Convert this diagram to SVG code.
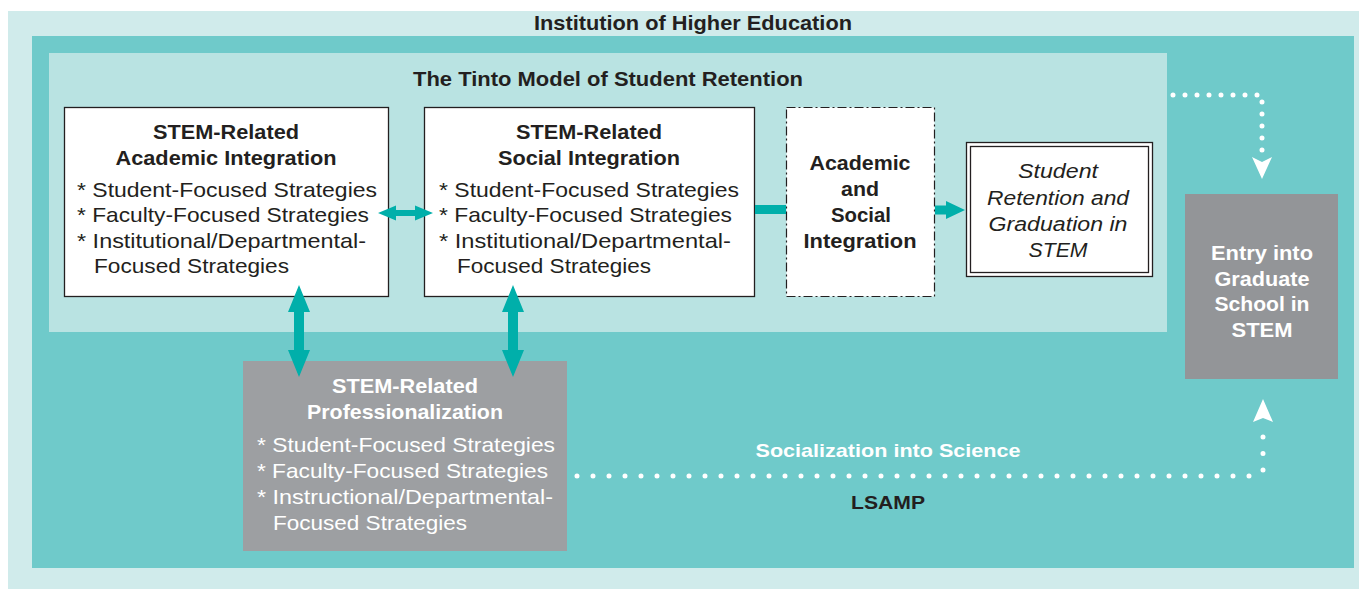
<svg xmlns="http://www.w3.org/2000/svg" width="1367" height="589" viewBox="0 0 1367 589">
<style>
.t{font-family:"Liberation Sans",Arial,sans-serif;fill:#231f20}
.b{font-weight:bold;font-size:20.5px;text-anchor:middle}
.r{font-size:21px}
.i{font-style:italic;font-size:20.5px;text-anchor:middle}
.w{fill:#ffffff}
.box{fill:#ffffff;stroke:#231f20;stroke-width:1.3}
.arr{fill:#00afaa}
.dot{fill:none;stroke:#ffffff;stroke-width:5;stroke-linecap:round}
</style>
<rect x="8" y="11" width="1351" height="578" fill="#d0ebeb"/>
<rect x="32" y="36" width="1322" height="532" fill="#6fcaca"/>
<rect x="49" y="53" width="1118" height="279" fill="#b9e3e2"/>
<text class="t b" x="693" y="30" textLength="318" lengthAdjust="spacingAndGlyphs">Institution of Higher Education</text>
<text class="t b" x="608" y="86" textLength="390" lengthAdjust="spacingAndGlyphs">The Tinto Model of Student Retention</text>

<g id="academic">
  <rect class="box" x="64.5" y="107.5" width="324" height="189"/>
  <text class="t b" x="226" y="139" textLength="146" lengthAdjust="spacingAndGlyphs">STEM-Related</text>
  <text class="t b" x="226" y="165" textLength="221" lengthAdjust="spacingAndGlyphs">Academic Integration</text>
  <text class="t r" x="77" y="197" textLength="300" lengthAdjust="spacingAndGlyphs">* Student-Focused Strategies</text>
  <text class="t r" x="77" y="222" textLength="292" lengthAdjust="spacingAndGlyphs">* Faculty-Focused Strategies</text>
  <text class="t r" x="77" y="248" textLength="289" lengthAdjust="spacingAndGlyphs">* Institutional/Departmental-</text>
  <text class="t r" x="94" y="273" textLength="195" lengthAdjust="spacingAndGlyphs">Focused Strategies</text>
</g>

<g id="social">
  <rect class="box" x="424.5" y="107.5" width="330" height="189"/>
  <text class="t b" x="589" y="139" textLength="146" lengthAdjust="spacingAndGlyphs">STEM-Related</text>
  <text class="t b" x="589" y="165" textLength="182" lengthAdjust="spacingAndGlyphs">Social Integration</text>
  <text class="t r" x="439" y="197" textLength="300" lengthAdjust="spacingAndGlyphs">* Student-Focused Strategies</text>
  <text class="t r" x="439" y="222" textLength="293" lengthAdjust="spacingAndGlyphs">* Faculty-Focused Strategies</text>
  <text class="t r" x="439" y="248" textLength="292" lengthAdjust="spacingAndGlyphs">* Institutional/Departmental-</text>
  <text class="t r" x="457" y="273" textLength="194" lengthAdjust="spacingAndGlyphs">Focused Strategies</text>
</g>

<g id="integration">
  <rect x="786.5" y="107.5" width="148" height="189" fill="#ffffff" stroke="#231f20" stroke-width="1.2" stroke-dasharray="9 3 2 3"/>
  <text class="t b" x="860" y="170" textLength="101" lengthAdjust="spacingAndGlyphs">Academic</text>
  <text class="t b" x="860" y="196" textLength="38" lengthAdjust="spacingAndGlyphs">and</text>
  <text class="t b" x="861" y="222" textLength="60" lengthAdjust="spacingAndGlyphs">Social</text>
  <text class="t b" x="860" y="248" textLength="113" lengthAdjust="spacingAndGlyphs">Integration</text>
</g>

<g id="retention">
  <rect class="box" x="966.5" y="142.5" width="186" height="134"/>
  <rect x="970.5" y="146.5" width="178" height="126" fill="none" stroke="#231f20" stroke-width="1.3"/>
  <text class="t i" x="1058" y="178" textLength="80" lengthAdjust="spacingAndGlyphs">Student</text>
  <text class="t i" x="1058" y="205" textLength="142" lengthAdjust="spacingAndGlyphs">Retention and</text>
  <text class="t i" x="1058" y="231" textLength="139" lengthAdjust="spacingAndGlyphs">Graduation in</text>
  <text class="t i" x="1058" y="257" textLength="59" lengthAdjust="spacingAndGlyphs">STEM</text>
</g>

<g id="graduate">
  <rect x="1185" y="194" width="153" height="185" fill="#939598"/>
  <text class="t b w" x="1262" y="260" textLength="102" lengthAdjust="spacingAndGlyphs">Entry into</text>
  <text class="t b w" x="1262" y="286" textLength="95" lengthAdjust="spacingAndGlyphs">Graduate</text>
  <text class="t b w" x="1262" y="311" textLength="95" lengthAdjust="spacingAndGlyphs">School in</text>
  <text class="t b w" x="1262" y="337" textLength="61" lengthAdjust="spacingAndGlyphs">STEM</text>
</g>

<g id="professionalization">
  <rect x="243" y="361" width="324" height="190" fill="#9d9fa2"/>
  <text class="t b w" x="405" y="393" textLength="146" lengthAdjust="spacingAndGlyphs">STEM-Related</text>
  <text class="t b w" x="405" y="419" textLength="196" lengthAdjust="spacingAndGlyphs">Professionalization</text>
  <text class="t r w" x="257" y="452" textLength="298" lengthAdjust="spacingAndGlyphs">* Student-Focused Strategies</text>
  <text class="t r w" x="257" y="478" textLength="291" lengthAdjust="spacingAndGlyphs">* Faculty-Focused Strategies</text>
  <text class="t r w" x="257" y="504" textLength="296" lengthAdjust="spacingAndGlyphs">* Instructional/Departmental-</text>
  <text class="t r w" x="273" y="530" textLength="194" lengthAdjust="spacingAndGlyphs">Focused Strategies</text>
</g>

<g id="connectors">
  <path class="arr" d="M378,213 L396,205.5 L396,210 L415,210 L415,205.5 L433,213 L415,220.5 L415,216 L396,216 L396,220.5 Z"/>
  <rect class="arr" x="755" y="205" width="31" height="9"/>
  <path class="arr" d="M935,205.5 L946,205.5 L946,201 L965,210 L946,219 L946,214.5 L935,214.5 Z"/>
  <path class="arr" d="M299,285 L310,312 L304,312 L304,350 L310,350 L299,377 L288,350 L294,350 L294,312 L288,312 Z"/>
  <path class="arr" d="M513,285 L524,312 L518,312 L518,350 L524,350 L513,377 L502,350 L508,350 L508,312 L502,312 Z"/>
  <path class="dot" d="M1173,95 L1262,95 L1262,162" stroke-dasharray="0 12"/>
  <path d="M1252,157 L1262,162 L1272,157 L1262,179 Z" fill="#ffffff"/>
  <path class="dot" d="M577,476 L1256,476" stroke-dasharray="0 16"/>
  <path class="dot" d="M1263,470 L1263,430" stroke-dasharray="0 16.5"/>
  <path d="M1253,422 L1263,418 L1273,422 L1263,399 Z" fill="#ffffff"/>
  <text class="t w" x="888" y="457" font-weight="bold" font-size="19" text-anchor="middle" textLength="265" lengthAdjust="spacingAndGlyphs">Socialization into Science</text>
  <text class="t" x="888" y="509" font-weight="bold" font-size="19" text-anchor="middle" textLength="74" lengthAdjust="spacingAndGlyphs">LSAMP</text>
</g>
</svg>
